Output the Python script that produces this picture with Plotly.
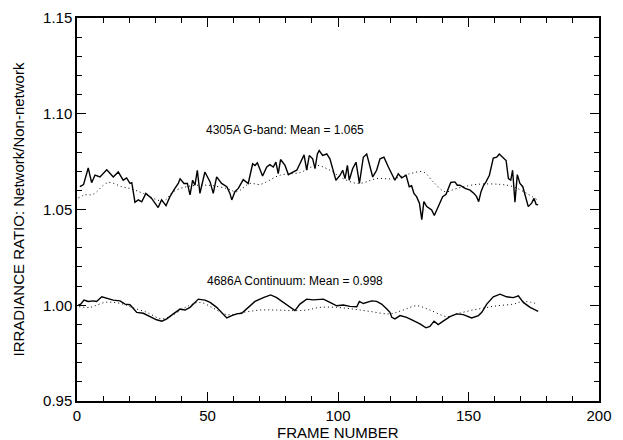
import plotly.graph_objects as go

# G-band (4305A) ratio, solid
gb_frames = [1.1, 2.5, 4.3, 5.6, 6.9, 8.8, 11.4, 13.9, 15.8, 17.7, 19.0, 20.3, 21.0, 22.2, 23.5, 24.8,
             26.4, 28.6, 31.1, 32.4, 34.1, 35.6, 37.5, 38.8, 39.5, 41.0, 42.3, 43.3, 44.3, 45.2, 46.1,
             47.1, 49.0, 51.0, 52.2, 53.5, 55.4, 57.4, 58.6, 59.3, 60.5, 61.8, 63.7, 65.6, 67.3, 68.2,
             69.1, 71.1, 72.7, 73.9, 75.2, 76.2, 77.1, 78.0, 79.7, 81.0, 82.9, 84.2, 85.4, 87.0, 88.0,
             89.0, 90.3, 91.2, 92.1, 92.8, 94.1, 95.7, 96.9, 99.2, 100.8, 101.8, 102.7, 103.6, 104.3,
             105.6, 106.9, 108.2, 109.7, 111.0, 113.3, 114.8, 116.1, 117.6, 119.3, 121.8, 123.1, 124.4,
             126.1, 127.3, 128.2, 129.1, 130.1, 131.2, 132.1, 132.9, 134.0, 135.2, 135.9, 136.9, 138.4,
             140.1, 141.4, 142.6, 143.2, 144.8, 145.7, 146.7, 148.7, 150.6, 152.1, 153.1, 153.9, 154.8,
             155.7, 156.7, 158.0, 159.5, 160.8, 161.8, 163.3, 164.4, 165.3, 166.2, 166.9, 167.8, 168.7,
             169.7, 170.8, 171.6, 172.9, 174.2, 175.1, 175.9, 176.7]
gb_vals = [1.0619, 1.0630, 1.0717, 1.0640, 1.0680, 1.0670, 1.0708, 1.0670, 1.0696, 1.0653, 1.0665,
           1.0636, 1.0640, 1.0538, 1.0550, 1.0540, 1.0584, 1.0558, 1.0510, 1.0550, 1.0520, 1.0567,
           1.0610, 1.0636, 1.0660, 1.0636, 1.0636, 1.0576, 1.0653, 1.0627, 1.0705, 1.0584, 1.0696,
           1.0644, 1.0584, 1.0670, 1.0636, 1.0619, 1.0584, 1.0550, 1.0593, 1.0610, 1.0656, 1.0636,
           1.0739, 1.0730, 1.0744, 1.0675, 1.0722, 1.0734, 1.0722, 1.0747, 1.0687, 1.0761, 1.0730,
           1.0682, 1.0696, 1.0705, 1.0739, 1.0785, 1.0705, 1.0782, 1.0765, 1.0713, 1.0790, 1.0808,
           1.0782, 1.0790, 1.0765, 1.0653, 1.0679, 1.0705, 1.0661, 1.0730, 1.0653, 1.0713, 1.0747,
           1.0636, 1.0773, 1.0790, 1.0670, 1.0705, 1.0765, 1.0773, 1.0722, 1.0653, 1.0687, 1.0665,
           1.0679, 1.0619, 1.0624, 1.0584, 1.0567, 1.0533, 1.0447, 1.0541, 1.0515, 1.0507, 1.0498,
           1.0469, 1.0515, 1.0567, 1.0579, 1.0627, 1.0641, 1.0644, 1.0627, 1.0627, 1.0610, 1.0601,
           1.0584, 1.0567, 1.0541, 1.0593, 1.0624, 1.0644, 1.0679, 1.0768, 1.0773, 1.0790, 1.0768,
           1.0756, 1.0661, 1.0653, 1.0705, 1.0538, 1.0682, 1.0636, 1.0619, 1.0584, 1.0515, 1.0533,
           1.0558, 1.0527, 1.0524]

# G-band smoothed, dotted
gbs_frames = [0.5, 2.9, 6.1, 12.0, 17.1, 21.0, 25.4, 33.1, 36.9, 42.0, 49.7, 57.4, 61.2, 66.3, 70.1,
              77.8, 85.4, 91.8, 96.9, 102.0, 107.8, 114.8, 121.2, 127.6, 132.7, 136.5, 141.0, 145.5,
              153.1, 162.1, 167.2, 172.3, 176.4]
gbs_vals = [1.0560, 1.0576, 1.0579, 1.0641, 1.0619, 1.0607, 1.0584, 1.0545, 1.0593, 1.0619, 1.0627,
            1.0610, 1.0593, 1.0636, 1.0631, 1.0679, 1.0693, 1.0730, 1.0705, 1.0661, 1.0636, 1.0661,
            1.0661, 1.0687, 1.0696, 1.0644, 1.0593, 1.0610, 1.0631, 1.0631, 1.0619, 1.0584, 1.0550]

# Continuum (4686A) ratio, solid
ct_frames = [0.5, 1.4, 2.7, 4.3, 6.3, 7.5, 9.5, 11.4, 13.9, 16.5, 18.4, 20.3, 22.9, 25.4, 28.0, 30.5,
             32.5, 34.4, 36.9, 39.5, 41.4, 43.3, 44.6, 46.5, 49.0, 51.0, 53.5, 56.0, 57.4, 59.3, 61.2,
             63.1, 65.0, 68.2, 71.4, 74.2, 76.5, 79.0, 81.6, 83.5, 85.4, 88.0, 90.5, 93.1, 94.4, 96.9,
             99.5, 102.0, 104.6, 107.2, 108.2, 109.7, 112.9, 114.8, 116.7, 118.7, 119.9, 120.6, 121.8,
             123.8, 126.3, 128.9, 131.4, 133.7, 135.2, 136.8, 138.4, 140.3, 142.9, 145.5, 148.0, 151.2,
             153.8, 155.1, 157.0, 159.5, 162.1, 164.6, 167.2, 169.1, 171.0, 173.6, 176.7]
ct_vals = [1.0000, 1.0006, 1.0027, 1.0020, 1.0023, 1.0020, 1.0044, 1.0037, 1.0027, 1.0023, 1.0006,
           1.0003, 0.9963, 0.9958, 0.9941, 0.9924, 0.9917, 0.9929, 0.9955, 0.9980, 0.9975, 0.9989,
           1.0006, 1.0032, 1.0027, 1.0015, 0.9989, 0.9955, 0.9934, 0.9946, 0.9955, 0.9958, 0.9980,
           1.0020, 1.0040, 1.0054, 1.0040, 1.0015, 0.9989, 0.9972, 1.0006, 1.0032, 1.0028, 1.0032,
           1.0032, 1.0015, 0.9997, 1.0001, 0.9994, 0.9992, 1.0020, 1.0009, 1.0023, 1.0020, 1.0006,
           0.9980, 0.9963, 0.9937, 0.9929, 0.9946, 0.9937, 0.9920, 0.9903, 0.9882, 0.9889, 0.9917,
           0.9899, 0.9917, 0.9941, 0.9955, 0.9951, 0.9934, 0.9946, 0.9963, 1.0006, 1.0044, 1.0058,
           1.0044, 1.0040, 1.0049, 1.0015, 0.9989, 0.9968]

# Continuum smoothed, dotted
cts_frames = [0.8, 5.0, 6.9, 10.7, 13.9, 17.7, 21.0, 26.7, 32.5, 36.9, 42.7, 47.2, 52.2, 57.4, 63.7,
              70.1, 76.5, 82.8, 88.0, 93.1, 99.5, 105.8, 112.2, 119.9, 125.0, 130.1, 135.2, 141.6,
              145.5, 150.6, 155.7, 160.8, 167.2, 171.0, 176.7]
cts_vals = [0.9992, 0.9989, 0.9997, 1.0015, 1.0015, 1.0006, 0.9989, 0.9963, 0.9929, 0.9951, 0.9997,
            1.0015, 0.9985, 0.9951, 0.9963, 0.9975, 0.9975, 0.9972, 0.9975, 0.9989, 0.9989, 0.9980,
            0.9968, 0.9955, 0.9975, 0.9997, 0.9975, 0.9941, 0.9955, 0.9972, 0.9985, 0.9997, 1.0006,
            1.0020, 1.0006]

labels = ["4305A G-band: Mean = 1.065", "4686A Continuum: Mean = 0.998"]
label_x = [48.5, 49]
label_y = [1.0915, 1.0125]

x_title = "FRAME NUMBER"
y_title = "IRRADIANCE RATIO: Network/Non-network"

FONT = "Liberation Sans, Arial, Helvetica, sans-serif"
DOT = "1px,3px"

fig = go.Figure()
fig.add_trace(go.Scatter(x=gb_frames, y=gb_vals, mode="lines",
                         line=dict(color="black", width=1.4)))
fig.add_trace(go.Scatter(x=gbs_frames, y=gbs_vals, mode="lines",
                         line=dict(color="black", width=1, dash=DOT, shape="spline")))
fig.add_trace(go.Scatter(x=ct_frames, y=ct_vals, mode="lines",
                         line=dict(color="black", width=1.4)))
fig.add_trace(go.Scatter(x=cts_frames, y=cts_vals, mode="lines",
                         line=dict(color="black", width=1, dash=DOT, shape="spline")))

for t, x, y in zip(labels, label_x, label_y):
    fig.add_annotation(x=x, y=y, text=t, showarrow=False, xanchor="left", yanchor="middle",
                       font=dict(family=FONT, size=12, color="black"))

# axis titles as annotations for exact placement
fig.add_annotation(x=0.5, y=0, xref="paper", yref="paper", text=x_title, showarrow=False,
                   xanchor="center", yanchor="middle", yshift=-31,
                   font=dict(family=FONT, size=15, color="black"))
fig.add_annotation(x=0, y=0.5, xref="paper", yref="paper", text=y_title, showarrow=False,
                   xanchor="center", yanchor="middle", xshift=-59, textangle=-90,
                   font=dict(family=FONT, size=15, color="black"))

axis_common = dict(
    showgrid=False, zeroline=False, showline=True, linecolor="black", linewidth=1.5,
    mirror="allticks", ticks="inside", ticklen=9, tickwidth=1.2, tickcolor="black",
    tickfont=dict(family=FONT, size=15, color="black"), automargin=False,
    ticklabeloverflow="allow",
)

fig.update_xaxes(range=[0, 200], tick0=0, dtick=50,
                 minor=dict(dtick=10, ticks="inside", ticklen=5, tickwidth=1, tickcolor="black"),
                 **axis_common)
fig.update_yaxes(range=[0.95, 1.15], tick0=0.95, dtick=0.05, tickformat=".2f",
                 minor=dict(dtick=0.01, ticks="inside", ticklen=5, tickwidth=1, tickcolor="black"),
                 **axis_common)

# the page body adds an 8px offset, so the figure is sized to fit the window
fig.update_layout(
    width=615, height=432,
    margin=dict(l=69, r=24, t=10, b=39),
    paper_bgcolor="white", plot_bgcolor="white",
    showlegend=False,
)

fig.write_html("out.html")
